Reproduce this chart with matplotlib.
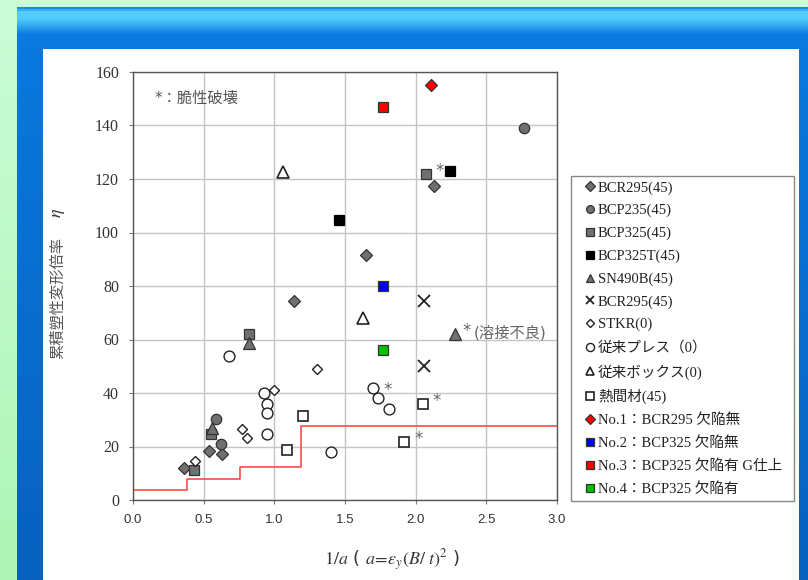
import numpy as np
import matplotlib
matplotlib.use('Agg')
import matplotlib.pyplot as plt

plt.rcParams['mathtext.fontset'] = 'stix'
plt.rcParams['font.family'] = ['DejaVu Sans', 'Noto Sans CJK JP']

# ---------------- data ----------------
bcr295_x = [2.13, 1.65, 1.14, 0.54, 0.63, 0.36]
bcr295_y = [117.5, 91.5, 74.5, 18.2, 17.1, 11.8]
bcp235_x = [2.77, 0.585, 0.62]
bcp235_y = [139.0, 30.1, 20.8]
bcp325_x = [2.07, 0.82, 0.55, 0.43]
bcp325_y = [122.0, 62.0, 24.7, 11.2]
bcp325t_x = [2.24, 1.46]
bcp325t_y = [123.0, 104.5]
sn490b_x = [2.28, 0.82, 0.56]
sn490b_y = [62.0, 58.6, 26.8]
bcr295x_x = [2.06, 2.06]
bcr295x_y = [74.5, 50.1]
stkr_x = [1.30, 1.00, 0.77, 0.81, 0.44]
stkr_y = [48.8, 41.1, 26.5, 23.3, 14.6]
press_x = [0.68, 1.70, 0.93, 1.73, 0.95, 1.81, 0.95, 0.95, 1.40]
press_y = [53.8, 42.0, 39.9, 38.0, 35.8, 34.1, 32.4, 24.5, 18.1]
box_x = [1.06, 1.63]
box_y = [122.7, 68.2]
hot_x = [2.05, 1.20, 1.92, 1.09]
hot_y = [36.0, 31.5, 21.6, 18.7]
no1_x, no1_y = [2.11], [155.0]
no2_x, no2_y = [1.77], [80.0]
no3_x, no3_y = [1.77], [147.0]
no4_x, no4_y = [1.77], [56.0]

limit_x = [0.0, 0.38, 0.76, 1.19, 3.0]
limit_y = [3.7, 7.7, 12.5, 27.7, 27.7]

brittle_x = [2.07, 1.70, 2.05, 1.92]
brittle_y = [122.0, 42.0, 36.0, 21.6]
weld_x, weld_y = 2.28, 62.0

labels = ['BCR295(45)', 'BCP235(45)', 'BCP325(45)', 'BCP325T(45)', 'SN490B(45)',
          'BCR295(45)', 'STKR(0)', '従来プレス（0）', '従来ボックス(0)', '熱間材(45)',
          'No.1：BCR295 欠陥無', 'No.2：BCP325 欠陥無', 'No.3：BCP325 欠陥有 G仕上',
          'No.4：BCP325 欠陥有']

# ---------------- figure & background ----------------
W, H = 808, 580
fig = plt.figure(figsize=(W / 100, H / 100), dpi=100)

img = np.zeros((H, W, 3))
yy = np.linspace(0, 1, H)[:, None]
green_top = np.array([0.80, 0.99, 0.85])
green_bot = np.array([0.68, 0.96, 0.71])
img[:] = green_top + (green_bot - green_top) * yy[:, :, None] * np.ones((1, W, 1))
# blue frame
blue_top = np.array([0.04, 0.48, 0.88])
blue_bot = np.array([0.03, 0.38, 0.75])
for r in range(7, H):
    t = (r - 7) / (H - 7)
    img[r, 17:] = blue_top + (blue_bot - blue_top) * t
# highlight band at top
hl = np.array([0.32, 0.80, 0.99])
for r in range(7, 49):
    d = r - 7
    if d < 2:
        c = np.array([0.12, 0.55, 0.90])
    elif d < 4:
        c = np.array([0.22, 0.68, 0.95])
    elif d < 11:
        c = hl
    else:
        t = min((d - 11) / 16.0, 1.0)
        c = hl + (blue_top - hl) * t
    img[r, 17:] = c
img[49:, 43:799] = 1.0

bg = fig.add_axes([0, 0, 1, 1], zorder=-10)
bg.imshow(img, aspect='auto', extent=(0, W, H, 0))
bg.set_axis_off()

# ---------------- main axes ----------------
L, R, T, B = 133, 557, 72, 500
ax = fig.add_axes([L / W, 1 - B / H, (R - L) / W, (B - T) / H])
ax.set_xlim(0, 3.0)
ax.set_ylim(0, 160)
ax.set_xticks(np.arange(0, 3.01, 0.5))
ax.set_yticks(np.arange(0, 161, 20))
ax.set_xticklabels([f'{v:.1f}' for v in np.arange(0, 3.01, 0.5)])
ax.grid(True, color='#c4c4c4', linewidth=1.0)
ax.set_axisbelow(True)
for s in ax.spines.values():
    s.set_color('#555555')
    s.set_linewidth(1.0)
ax.tick_params(axis='both', direction='out', length=3, color='#777777', pad=7)
for lab in ax.get_yticklabels():
    lab.set_fontfamily('Liberation Serif')
    lab.set_fontsize(11.5)
    lab.set_color('#333333')
for lab in ax.get_xticklabels():
    lab.set_fontfamily('Liberation Sans')
    lab.set_fontsize(9.5)
    lab.set_color('#333333')

ax.step(limit_x, limit_y, where='post', color='#ff4a4a', linewidth=1.2, zorder=2)

gray = '#707070'
edge = '#333333'
series = [
    (bcr295_x, bcr295_y, dict(marker='D', ms=6.4, mfc=gray, mec=edge, mew=0.9)),
    (bcp235_x, bcp235_y, dict(marker='o', ms=7.5, mfc=gray, mec=edge, mew=0.9)),
    (bcp325_x, bcp325_y, dict(marker='s', ms=7.4, mfc=gray, mec=edge, mew=0.9)),
    (bcp325t_x, bcp325t_y, dict(marker='s', ms=7.6, mfc='#000000', mec='#000000', mew=0.9)),
    (sn490b_x, sn490b_y, dict(marker='^', ms=8.0, mfc=gray, mec=edge, mew=0.9)),
    (bcr295x_x, bcr295x_y, dict(marker='x', ms=8.0, mfc='none', mec='#222222', mew=1.3)),
    (stkr_x, stkr_y, dict(marker='D', ms=5.6, mfc='white', mec='#222222', mew=1.0)),
    (press_x, press_y, dict(marker='o', ms=7.8, mfc='white', mec='#222222', mew=1.0)),
    (box_x, box_y, dict(marker='^', ms=8.3, mfc='white', mec='#222222', mew=1.2)),
    (hot_x, hot_y, dict(marker='s', ms=7.4, mfc='white', mec='#222222', mew=1.2)),
    (no1_x, no1_y, dict(marker='D', ms=6.2, mfc='#ff0000', mec='#333333', mew=0.9)),
    (no2_x, no2_y, dict(marker='s', ms=7.8, mfc='#0000ff', mec='#333333', mew=0.9)),
    (no3_x, no3_y, dict(marker='s', ms=7.8, mfc='#ff0000', mec='#333333', mew=0.9)),
    (no4_x, no4_y, dict(marker='s', ms=7.8, mfc='#00c000', mec='#333333', mew=0.9)),
]
handles = []
for (xs, ys, st), lab in zip(series, labels):
    h, = ax.plot(xs, ys, linestyle='none', label=lab, zorder=3, **st)
    handles.append(h)

# brittle-failure asterisks
ast_off = [(7, 2), (7, -2), (7, 2), (7, 2)]
for x, y, off in zip(brittle_x, brittle_y, ast_off):
    ax.annotate('*', (x, y), xytext=off, textcoords='offset points',
                ha='left', va='center', fontsize=12, color='#666666')
ax.annotate('*', (weld_x, weld_y), xytext=(5, 2), textcoords='offset points',
            ha='left', va='center', fontsize=12, color='#666666')
ax.annotate('(溶接不良)', (weld_x, weld_y), xytext=(13, 1), textcoords='offset points',
            ha='left', va='center', fontsize=11, color='#666666',
            family=['DejaVu Sans', 'Noto Sans CJK JP'])
ax.text(0.155, 150.3, '*：脆性破壊', ha='left', va='center', fontsize=11,
        color='#555555', family=['DejaVu Sans', 'Noto Sans CJK JP'])

# axis labels
fig.text(392 / W, 1 - 560 / H, r'$1/a$ ( $a\!=\!\varepsilon_y(B/\ t)^2$ )',
         ha='center', va='center', fontsize=13, color='#333333')
fig.text(58 / W, 1 - 298 / H, '累積塑性変形倍率', rotation=90, ha='center', va='center',
         fontsize=11, color='#555555', family=['Noto Sans CJK JP'])
fig.text(58 / W, 1 - 213 / H, r'$\eta$', rotation=90, ha='center', va='center',
         fontsize=13, color='#333333')

# legend
lx0, ly0, lx1, ly1 = 571, 176, 794, 501
leg = ax.legend(handles=handles, loc='upper left',
                bbox_to_anchor=(lx0 / W, 1 - ly1 / H, (lx1 - lx0) / W, (ly1 - ly0) / H),
                bbox_transform=fig.transFigure, mode='expand', borderaxespad=0,
                prop={'family': ['Liberation Serif', 'Noto Sans CJK JP'], 'size': 10.5},
                markerscale=0.75, handlelength=1.9, handletextpad=-0.4,
                borderpad=0.35, labelspacing=0.64, fancybox=False, framealpha=1,
                edgecolor='#888888', numpoints=1)
leg.get_frame().set_linewidth(1.0)
for t in leg.get_texts():
    t.set_color('#222222')

fig.savefig('out.png', dpi=100)
